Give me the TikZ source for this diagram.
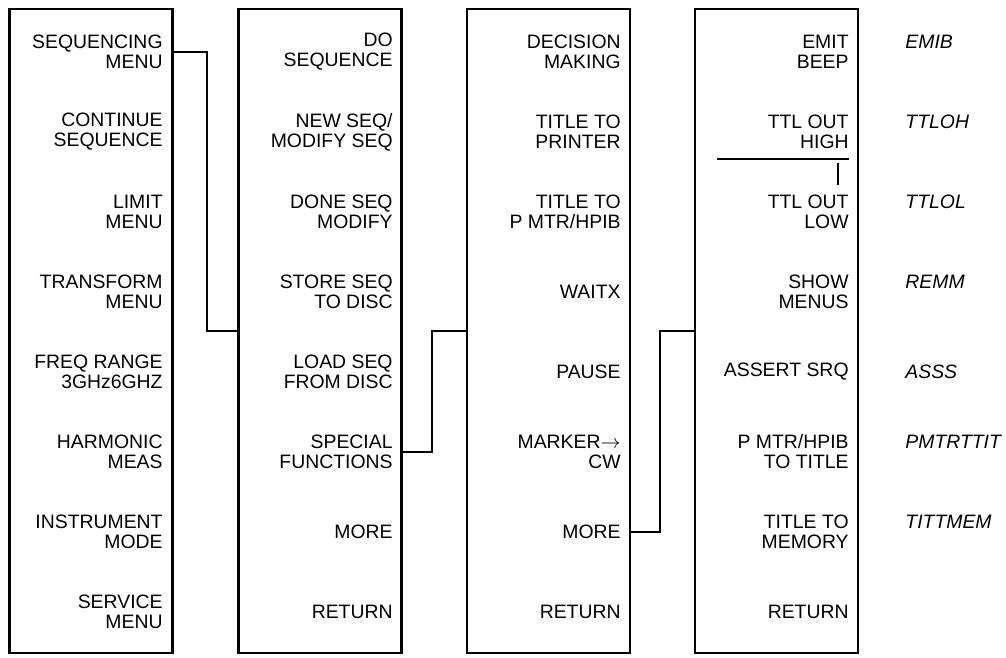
\documentclass[tikz,border=0pt]{standalone}
\usepackage{fontspec}
\setmainfont{Liberation Sans}

\tikzset{
  menubox/.style={draw, line width=1.2pt, minimum width=81.5pt, minimum height=322pt, inner sep=0pt},
  softkey/.style={anchor=east, align=right, inner sep=0pt, font=\fontsize{9.7}{10}\selectfont},
  mnem/.style={anchor=west, inner sep=0pt, font=\fontsize{9.7}{10}\selectfont\itshape},
  link/.style={line width=1pt},
}

\begin{document}
\begin{tikzpicture}[x=0.5pt, y=-0.5pt]
    \useasboundingbox (0,0) rectangle (1006,658);
    % the four menu columns
    \node[menubox] (mainbox) at (91,331) {};
    \node[menubox] (seqbox) at (320,331) {};
    \node[menubox] (specbox) at (548.5,331) {};
    \node[menubox] (morebox) at (776.5,331) {};

    % softkey labels
    \foreach \i/\t in {1/{SEQUENCING\\MENU}, 2/{CONTINUE\\SEQUENCE}, 3/{LIMIT\\MENU},
        4/{TRANSFORM\\MENU}, 5/{FREQ RANGE\\3GHz6GHZ}, 6/{HARMONIC\\MEAS},
        7/{INSTRUMENT\\MODE}, 8/{SERVICE\\MENU}}
      \node[softkey] (main\i) at (163,{-28+80*\i}) {\t};
    \foreach \i/\t in {1/{DO\\SEQUENCE}, 2/{NEW SEQ/\\MODIFY SEQ}, 3/{DONE SEQ\\MODIFY},
        4/{STORE SEQ\\TO DISC}, 5/{LOAD SEQ\\FROM DISC}, 6/{SPECIAL\\FUNCTIONS},
        7/{MORE}, 8/{RETURN}}
      \node[softkey] (seq\i) at (393,{-28+80*\i}) {\t};
    \foreach \i/\t in {1/{DECISION\\MAKING}, 2/{TITLE TO\\PRINTER}, 3/{TITLE TO\\P MTR/HPIB},
        4/{WAITX}, 5/{PAUSE}, 6/{MARKER$\to$\\CW}, 7/{MORE}, 8/{RETURN}}
      \node[softkey] (spec\i) at (621,{-28+80*\i}) {\t};
    \foreach \i/\t in {1/{EMIT\\BEEP}, 2/{TTL OUT\\HIGH}, 3/{TTL OUT\\LOW},
        4/{SHOW\\MENUS}, 5/{ASSERT SRQ}, 6/{P MTR/HPIB\\TO TITLE},
        7/{TITLE TO\\MEMORY}, 8/{RETURN}}
      \node[softkey] (more\i) at (849,{-28+80*\i}) {\t};

    % mnemonics
    \foreach \i/\t in {1/EMIB, 2/TTLOH, 3/TTLOL, 4/REMM, 6/PMTRTTIT, 7/TITTMEM}
      \node[mnem] (mn\i) at (905,{-38+80*\i}) {\t};
    \node[mnem] (mn5) at (905,372) {ASSS};

    % TTL high/low toggle mark
    \draw[line width=0.8pt] (717,159) -- (849,159);
    \draw[line width=0.6pt] (838,163) -- (838,185);

    % menu links
    \draw[link] (main1 -| mainbox.east) -- ++(33,0) |- (seqbox.west);
    \draw[link] (seq6 -| seqbox.east) -- ++(29,0) |- (specbox.west);
    \draw[link] (spec7 -| specbox.east) -- ++(29,0) |- (morebox.west);
\end{tikzpicture}
\end{document}
